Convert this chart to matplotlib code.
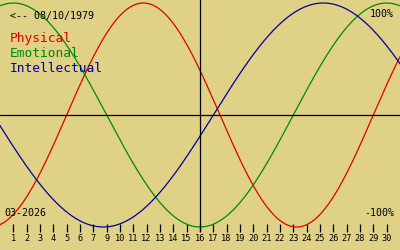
import datetime as dt
import numpy as np
import matplotlib
matplotlib.use("Agg")
import matplotlib.pyplot as plt

# biorhythm for someone born 08/10/1979 (dd/mm/yyyy), viewed on 16-03-2026
birth = dt.date(1979, 10, 8)
today = dt.date(2026, 3, 16)
names = ["Physical", "Emotional", "Intellectual"]
periods = [23, 28, 33]
colors = ["#e00000", "#008a00", "#00009a"]
# day labels along the bottom (8 is not shown in the original)
day_labels = [1, 2, 3, 4, 5, 6, 7, 9, 10, 11, 12, 13, 14, 15, 16,
              17, 18, 19, 20, 21, 22, 23, 24, 25, 26, 27, 28, 29, 30]
today_label = 16

bg = "#dfd287"
mono = "DejaVu Sans Mono"

W, H = 400, 250
fig = plt.figure(figsize=(W / 100, H / 100), dpi=100, facecolor=bg)
ax = fig.add_axes([0, 0, 1, 1], facecolor=bg)

# pixel row -> data value (center row 115, amplitude 112 px)
def yv(py):
    return (115 - py) / 112.0

ax.set_xlim(-15, 15)
ax.set_ylim(yv(H), yv(0))

t0 = (today - birth).days
x = np.linspace(-15, 15, 600)
for name, p, c in zip(names, periods, colors):
    ax.plot(x, np.sin(2 * np.pi * (t0 + x) / p), color=c, lw=0.9)

ax.axhline(0, color="black", lw=0.9)
ax.plot([0, 0], [yv(231), yv(0)], color="black", lw=0.9)

# day ticks along the bottom
pos = np.arange(len(day_labels)) - day_labels.index(today_label)
ax.set_xticks(pos)
ax.set_xticklabels([str(d) for d in day_labels])
ax.set_yticks([])
for s in ["top", "left", "right"]:
    ax.spines[s].set_visible(False)
ax.spines["bottom"].set_position(("data", yv(228)))
ax.spines["bottom"].set_color("none")
ax.tick_params(axis="x", direction="inout", length=6, width=0.9,
               color="black", pad=1.5, labelsize=6.2,
               labelfontfamily=mono)

def label(px, py, s, **kw):
    fig.text(px / W, 1 - py / H, s, family=mono, va="baseline", **kw)

label(10, 19, "<-- " + birth.strftime("%d/%m/%Y"), fontsize=7.2, color="black")
for i, (name, c) in enumerate(zip(names, colors)):
    label(10, 42 + 15 * i, name, fontsize=9.3, color=c)
label(394, 17, "100%", fontsize=7.2, ha="right")
label(394, 216, "-100%", fontsize=7.2, ha="right")
label(4, 216, today.strftime("%m-%Y"), fontsize=7.2)

fig.savefig("out.png", dpi=100, facecolor=bg)
